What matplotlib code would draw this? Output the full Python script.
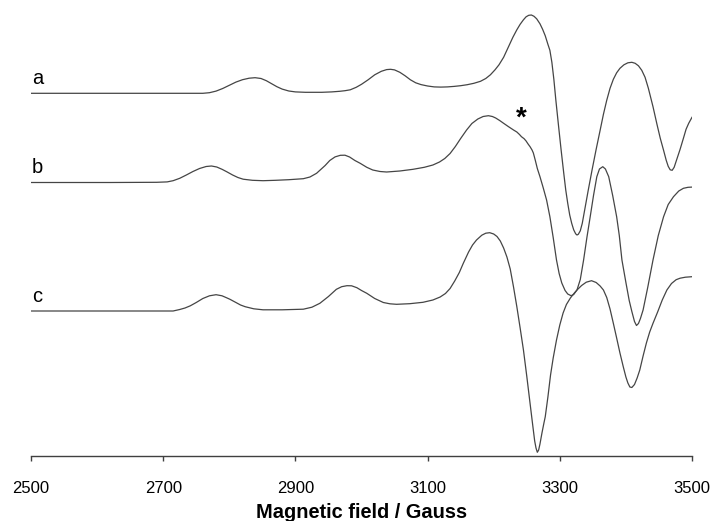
import matplotlib
matplotlib.use("Agg")
import matplotlib.pyplot as plt

plt.rcParams['font.family'] = ['Liberation Sans', 'DejaVu Sans']

# ---- data (field in Gauss, signal in arbitrary units) ----
field_a = [2500, 2680, 2760, 2770, 2780, 2790, 2800, 2810, 2820, 2830, 2839, 2848, 2856,
           2864, 2872, 2880, 2890, 2900, 2915, 2940, 2955, 2967, 2975, 2983, 2992, 3000,
           3010, 3020, 3030, 3038, 3044, 3050, 3058, 3066, 3074, 3082, 3090, 3100, 3110,
           3120, 3130, 3140, 3150, 3160, 3170, 3180, 3188, 3195, 3202, 3208, 3215, 3222,
           3229, 3235, 3240, 3245, 3249, 3253, 3257, 3261, 3265, 3270, 3274, 3278, 3282,
           3285, 3288, 3291, 3294, 3298, 3302, 3306, 3309, 3312, 3315, 3318, 3321, 3324,
           3326, 3328, 3331, 3334, 3337, 3340, 3343, 3349, 3355, 3361, 3366, 3371, 3376,
           3381, 3386, 3391, 3397, 3403, 3409, 3414, 3419, 3424, 3429, 3434, 3441, 3447,
           3452, 3457, 3461, 3464, 3467, 3470, 3473, 3477, 3482, 3487, 3491, 3495, 3500]
signal_a = [0, 0, 0, 0.6, 2.2, 4.8, 8, 11.2, 13.6, 15.1, 15.6, 14.8, 12.6,
            9.6, 6.6, 4.2, 2.3, 1.4, 1.0, 1.0, 1.4, 2.0, 2.6, 3.5, 6, 9,
            13.5, 18.5, 22, 23.7, 24, 23.4, 21, 17.5, 13.5, 10.5, 8.7, 7.3, 6.4,
            6.2, 6.4, 6.9, 7.6, 8.6, 10, 12, 14.8, 18.5, 23.5, 28.5, 36, 46,
            56, 63.5, 69, 73.5, 76.5, 78, 78.3, 77, 74.5, 69.5, 64, 57.5, 49,
            43, 31, 14, -6.7, -32, -56.7, -80, -96.7, -110, -121.7, -130, -136.5, -140.5,
            -141.7, -141, -137.5, -130, -119, -108, -97, -76, -56, -37, -21, -7, 5,
            14, 20.5, 25, 28.5, 30.5, 31, 30, 27.5, 23, 16, 5, -13.4, -31,
            -45, -57, -67, -73, -76.5, -77, -74, -66, -56, -45, -36, -30, -24]

field_b = [2500, 2620, 2690, 2706, 2715, 2725, 2735, 2745, 2755, 2765, 2773, 2781, 2789,
           2796, 2805, 2813, 2821, 2835, 2851, 2870, 2890, 2912, 2922, 2932, 2945, 2952,
           2960, 2968, 2975, 2982, 2990, 2998, 3008, 3017, 3028, 3038, 3058, 3078, 3095,
           3108, 3118, 3126, 3134, 3142, 3150, 3159, 3167, 3176, 3184, 3192, 3198, 3203,
           3209, 3215, 3222, 3230, 3235, 3239, 3242, 3246, 3249, 3252, 3255, 3258, 3260,
           3263, 3266, 3270, 3275, 3280, 3285, 3290, 3295, 3299, 3303, 3308, 3312, 3317,
           3321, 3326, 3331, 3336, 3341, 3346, 3351, 3356, 3360, 3365, 3369, 3374, 3380,
           3386, 3390, 3394, 3400, 3405, 3409, 3413, 3416, 3419, 3422, 3426, 3433, 3441,
           3449, 3457, 3464, 3472, 3480, 3487, 3494, 3500]
signal_b = [0, 0, 0.2, 0.6, 1.8, 4.2, 7.5, 11, 14, 16, 16.5, 15.5, 13.2,
            10.8, 7.5, 5, 3.3, 2.2, 1.8, 2.2, 2.8, 3.8, 5.5, 9.2, 17, 22,
            25.6, 27.2, 27.3, 25.5, 22, 19.2, 15.2, 12.5, 11, 10.5, 11.5, 13.2, 15.2,
            17.5, 20.5, 24, 29, 36, 44, 52.5, 59, 63.5, 66, 66.8, 66, 64.5,
            62, 59.2, 56, 52.5, 50.5, 48, 45.8, 43.8, 41.5, 38.5, 35.8, 32.5, 29.5,
            22, 14, 5.8, -5.5, -17.5, -34.2, -55, -77.5, -91, -100.5, -108, -111.5, -113.2,
            -112, -107.5, -97, -77.5, -55, -34.2, -13, 5.8, 13.5, 15.8, 13.5, 5.8, -13,
            -34.2, -53, -77.5, -100, -118, -129, -139, -143, -141, -136, -127.5, -105, -77.5,
            -53, -34.2, -22, -14.2, -8.5, -5.8, -4.8, -4.6]

field_c = [2500, 2715, 2725, 2733, 2741, 2750, 2760, 2770, 2780, 2789, 2796, 2801, 2810,
           2817, 2824, 2837, 2851, 2880, 2912, 2925, 2937, 2950, 2962, 2970, 2978, 2985,
           2993, 3000, 3008, 3020, 3033, 3043, 3053, 3073, 3093, 3108, 3119, 3127, 3134,
           3141, 3148, 3154, 3162, 3168, 3174, 3182, 3188, 3194, 3200, 3205, 3210, 3215,
           3220, 3225, 3230, 3235, 3240, 3245, 3250, 3255, 3259, 3262, 3264, 3266, 3268,
           3270, 3273, 3276, 3278, 3282, 3286, 3290, 3295, 3300, 3305, 3310, 3316, 3322,
           3326, 3333, 3340, 3348, 3355, 3361, 3366, 3371, 3376, 3381, 3386, 3391, 3396,
           3400, 3403, 3406, 3409, 3413, 3417, 3421, 3426, 3431, 3436, 3441, 3448, 3455,
           3462, 3469, 3476, 3482, 3490, 3500]
signal_c = [0, 0, 1.5, 3, 5.2, 8.5, 12.5, 15.2, 16.3, 15.2, 13.2, 11.7, 8.5,
            6, 4.3, 2.2, 1.2, 1.2, 1.8, 3.8, 7.7, 14.5, 21.7, 24.3, 25.3, 25.2,
            23.3, 20.5, 17.7, 12.5, 8.5, 7.2, 6.7, 7.3, 8.7, 11, 14, 17.5, 22.5,
            30, 38.5, 47.7, 59, 66, 71, 75.8, 77.8, 78.3, 77, 74.5, 70, 63,
            54, 42, 24, 4.3, -17, -39, -65, -92.3, -114, -130, -137, -141.3, -139,
            -133, -122, -112, -105.7, -86, -64, -47, -29, -14, -2, 6.5, 13, 18,
            21, 25.5, 28.8, 30.3, 28.5, 25, 21, 13.5, 2, -12.3, -27, -42, -55.7,
            -66, -72, -76, -76.5, -73.5, -67, -59, -45, -32, -21, -12.3, -1, 11,
            21, 27.5, 31.3, 32.8, 33.8, 34.3]

labels = ['a', 'b', 'c']
offsets = [0, -89.2, -217.7]
xticks = [2500, 2700, 2900, 3100, 3300, 3500]
xlabel = 'Magnetic field / Gauss'

# ---- figure ----
fig = plt.figure(figsize=(7.13, 5.21), dpi=100)
ax = fig.add_axes([31 / 713, 1 - 455.5 / 521, 661 / 713, 455.5 / 521])

line_color = '#454545'
for fx, sy, off, lab in zip([field_a, field_b, field_c], [signal_a, signal_b, signal_c], offsets, labels):
    ax.plot(fx, [v + off for v in sy], color=line_color, lw=0.9,
            solid_joinstyle='round', antialiased=True)
    ax.text(2501, off + 9.3, lab, fontsize=14.5, ha='left', va='baseline', color='black')

ax.text(3242, -25.5, '*', fontsize=20, fontweight='bold', ha='center', va='center')

ax.set_xlim(2500, 3500)
ax.set_ylim(93.3 - 455.5, 93.3)
ax.set_xticks(xticks)
ax.set_yticks([])
for s in ['left', 'right', 'top']:
    ax.spines[s].set_visible(False)
ax.spines['bottom'].set_color('#404040')
ax.spines['bottom'].set_linewidth(1.0)
ax.spines['bottom'].set_bounds(2500, 3500)
ax.tick_params(axis='x', direction='out', length=3.6, width=1.0, color='#404040',
               labelsize=12, pad=14.5)
ax.set_xlabel(xlabel, fontsize=14.4, fontweight='bold', labelpad=5)
ax.patch.set_alpha(0)

fig.savefig('out.png', dpi=100)
